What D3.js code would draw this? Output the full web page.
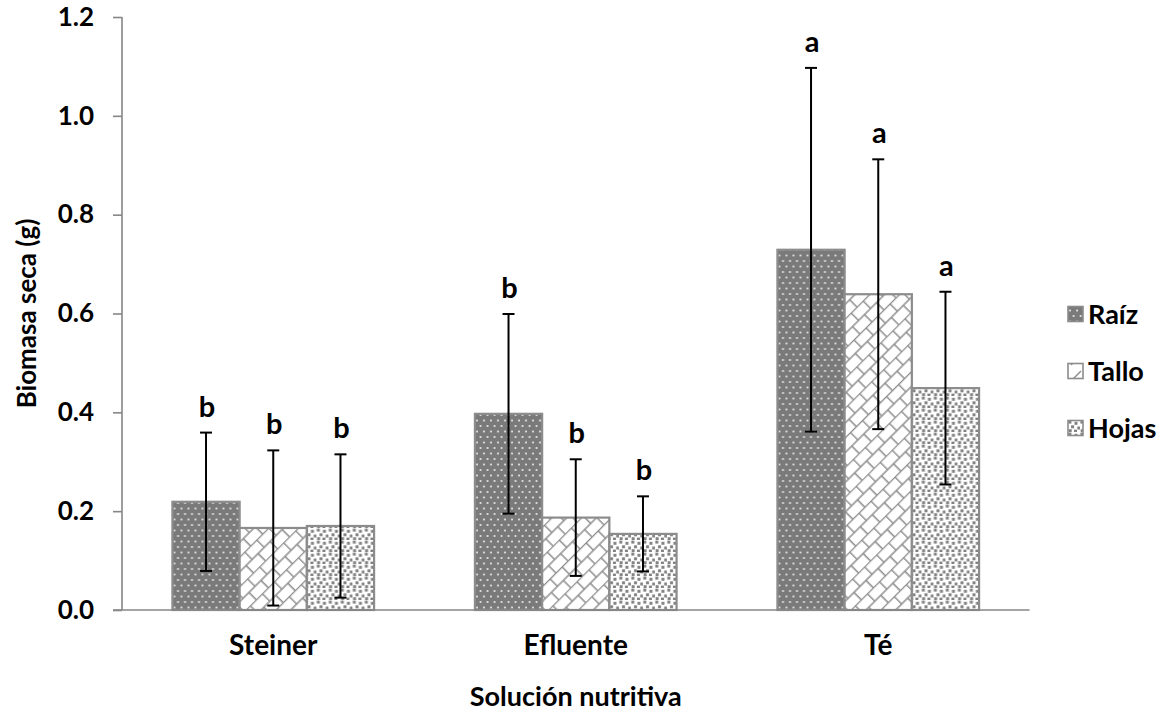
<!DOCTYPE html>
<html>
<head>
<meta charset="utf-8">
<script src="https://cdn.jsdelivr.net/npm/d3@7"></script>
<style>
  html, body { margin: 0; padding: 0; background: #fff; }
  svg { display: block; }
  text { font-family: Lato, "Open Sans", sans-serif; font-weight: 700; fill: #000; }
</style>
</head>
<body>
<svg id="chart" width="1170" height="721"></svg>
<script>
// Dry biomass by plant organ for each nutrient solution
const categories = ["Steiner", "Efluente", "Té"];
const series = ["Raíz", "Tallo", "Hojas"];
const raiz  = [0.219, 0.397, 0.729];
const tallo = [0.166, 0.187, 0.639];
const hojas = [0.170, 0.154, 0.449];
// standard deviation (error bar half-length)
const raizErr  = [0.140, 0.202, 0.368];
const talloErr = [0.157, 0.118, 0.273];
const hojasErr = [0.145, 0.076, 0.195];
// significance letters
const raizLetters  = ["b", "b", "a"];
const talloLetters = ["b", "b", "a"];
const hojasLetters = ["b", "b", "a"];
const yTicks = [0, 0.2, 0.4, 0.6, 0.8, 1.0, 1.2];

const values  = [raiz, tallo, hojas];
const errs    = [raizErr, talloErr, hojasErr];
const letters = [raizLetters, talloLetters, hojasLetters];

const svg = d3.select("#chart");
const plot = { left: 122, right: 1029.5, top: 17, bottom: 610 };

const x0 = d3.scaleBand().domain(categories)
  .range([plot.left, plot.right]).paddingInner(1/3).paddingOuter(1/6);
const x1 = d3.scaleBand().domain(series).range([0, x0.bandwidth()]).padding(0);
const y = d3.scaleLinear().domain([0, 1.2]).range([plot.bottom, plot.top]);

// ---- fill patterns ----
const defs = svg.append("defs");

// Raíz: dark grey with small light dots
const pR = defs.append("pattern").attr("id", "pat-raiz")
  .attr("patternUnits", "userSpaceOnUse").attr("width", 7).attr("height", 11);
pR.append("rect").attr("width", 7).attr("height", 11).attr("fill", "#7a7a7a");
pR.append("rect").attr("x", 1.2).attr("y", 1.6).attr("width", 1.8).attr("height", 1.8).attr("fill", "#e6e6e6");
pR.append("rect").attr("x", 4.7).attr("y", 7.1).attr("width", 1.8).attr("height", 1.8).attr("fill", "#e6e6e6");

// Tallo: white with diagonal brick lines
const pT = defs.append("pattern").attr("id", "pat-tallo")
  .attr("patternUnits", "userSpaceOnUse").attr("width", 17).attr("height", 21)
  .attr("patternTransform", "rotate(-45)");
pT.append("rect").attr("width", 17).attr("height", 21).attr("fill", "#fff");
pT.append("path")
  .attr("d", "M0,0.5H17 M0,11H17 M0.7,0.5V11 M9.2,11V21")
  .attr("stroke", "#8e8e8e").attr("stroke-width", 1.5).attr("fill", "none");

// Hojas: white with scattered grey squares
const pH = defs.append("pattern").attr("id", "pat-hojas")
  .attr("patternUnits", "userSpaceOnUse").attr("width", 12).attr("height", 12);
pH.append("rect").attr("width", 12).attr("height", 12).attr("fill", "#fff");
[[0.4, 0.6], [6.5, 1.8], [3.1, 5.3], [9.3, 6.5], [0.7, 9.2], [6.0, 9.6]].forEach(([a, b]) => {
  pH.append("rect").attr("x", a).attr("y", b).attr("width", 3).attr("height", 3).attr("fill", "#828282");
});

const fills = ["url(#pat-raiz)", "url(#pat-tallo)", "url(#pat-hojas)"];

// legend swatch variant for the stem pattern
const pTs = defs.append("pattern").attr("id", "pat-tallo-s")
  .attr("patternUnits", "userSpaceOnUse").attr("width", 16).attr("height", 16);
pTs.append("rect").attr("width", 16).attr("height", 16).attr("fill", "#fff");
pTs.append("path").attr("d", "M3,13L13,3").attr("stroke", "#8c8c8c").attr("stroke-width", 1.4);

// ---- y axis ----
const yAxis = d3.axisLeft(y).tickValues(yTicks).tickFormat(d3.format(".1f"))
  .tickSize(9).tickPadding(19);
const gy = svg.append("g").attr("transform", `translate(${plot.left},0)`).call(yAxis);
gy.select(".domain").attr("stroke", "#868686").attr("stroke-width", 1.6)
  .attr("d", `M0,${plot.top}V${plot.bottom}`);
gy.selectAll(".tick line").attr("stroke", "#868686").attr("stroke-width", 1.6);
gy.selectAll(".tick text").attr("font-size", 26).attr("font-family", "Lato, sans-serif").attr("font-weight", 700).attr("fill", "#000");

// ---- bars ----
const groups = svg.append("g").selectAll("g").data(categories).join("g")
  .attr("transform", d => `translate(${x0(d)},0)`);

series.forEach((s, si) => {
  groups.append("rect")
    .attr("x", x1(s))
    .attr("y", (d, ci) => y(values[si][ci]))
    .attr("width", x1.bandwidth())
    .attr("height", (d, ci) => y(0) - y(values[si][ci]))
    .attr("fill", fills[si])
    .attr("stroke", "#8c8c8c").attr("stroke-width", 2.2);
});

// ---- x axis ----
const xAxis = d3.axisBottom(x0).tickSize(0).tickPadding(25);
const gx = svg.append("g").attr("transform", `translate(0,${plot.bottom})`).call(xAxis);
gx.select(".domain").attr("stroke", "#868686").attr("stroke-width", 1.6)
  .attr("d", `M${plot.left - 9},0H${plot.right}`);
gx.selectAll(".tick text").attr("font-size", 28).attr("font-family", "Lato, sans-serif").attr("font-weight", 700).attr("fill", "#000");

// ---- error bars and letters ----
series.forEach((s, si) => {
  const cx = (ci) => x1(s) + x1.bandwidth() / 2;
  const eb = groups.append("g").attr("stroke", "#000").attr("stroke-width", 2);
  eb.append("line")
    .attr("x1", (d, ci) => cx(ci)).attr("x2", (d, ci) => cx(ci))
    .attr("y1", (d, ci) => y(values[si][ci] + errs[si][ci]))
    .attr("y2", (d, ci) => y(values[si][ci] - errs[si][ci]));
  [1, -1].forEach(sign => {
    eb.append("line")
      .attr("x1", (d, ci) => cx(ci) - 6).attr("x2", (d, ci) => cx(ci) + 6)
      .attr("y1", (d, ci) => y(values[si][ci] + sign * errs[si][ci]))
      .attr("y2", (d, ci) => y(values[si][ci] + sign * errs[si][ci]));
  });
  groups.append("text")
    .attr("x", (d, ci) => cx(ci) + 1)
    .attr("y", (d, ci) => y(values[si][ci] + errs[si][ci]) - 16)
    .attr("text-anchor", "middle").attr("font-size", 29)
    .text((d, ci) => letters[si][ci]);
});

// ---- axis titles ----
svg.append("text").attr("x", (plot.left + plot.right) / 2 ).attr("y", 706)
  .attr("text-anchor", "middle").attr("font-size", 27).text("Solución nutritiva");
svg.append("text").attr("transform", `translate(36,${(plot.top + plot.bottom) / 2}) rotate(-90)`)
  .attr("text-anchor", "middle").attr("font-size", 26).text("Biomasa seca (g)");

// ---- legend ----
const legFills = ["url(#pat-raiz)", "url(#pat-tallo-s)", "url(#pat-hojas)"];
const leg = svg.append("g").attr("transform", "translate(1068,0)");
series.forEach((s, si) => {
  const cy = 314 + si * 57;
  leg.append("rect").attr("x", 0).attr("y", cy - 7.5).attr("width", 15).attr("height", 15)
    .attr("fill", legFills[si]).attr("stroke", "#8c8c8c").attr("stroke-width", 1.6);
  leg.append("text").attr("x", 20).attr("y", cy).attr("dy", "0.36em")
    .attr("font-size", 27).text(s);
});
</script>
</body>
</html>
